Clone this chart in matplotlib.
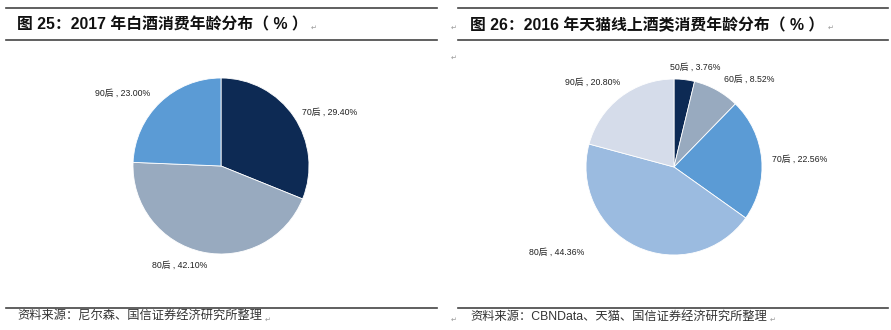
import numpy as np
import matplotlib.pyplot as plt

plt.rcParams['font.family'] = ['Liberation Sans', 'Noto Sans CJK SC', 'DejaVu Sans']

# data
left_labels = ['70后', '80后', '90后']
left_values = [29.40, 42.10, 23.00]
left_colors = ['#0d2a54', '#98aabf', '#5b9bd5']

right_labels = ['50后', '60后', '70后', '80后', '90后']
right_values = [3.76, 8.52, 22.56, 44.36, 20.80]
right_colors = ['#0d2a54', '#98aabf', '#5b9bd5', '#9bbbe0', '#d5dcea']

# label anchors in pie-radius units (layout only)
left_label_pos = [(0.92, 0.61, 'left'), (-0.16, -1.13, 'right'), (-0.81, 0.83, 'right')]
right_label_pos = [(-0.05, 1.13, 'left'), (0.57, 1.0, 'left'), (1.11, 0.09, 'left'),
                   (-1.02, -0.97, 'right'), (-0.61, 0.96, 'right')]

W, H = 891, 330
fig = plt.figure(figsize=(W / 100, H / 100), dpi=100)


def px_axes(x0, y0, w, h):
    return fig.add_axes([x0 / W, 1 - (y0 + h) / H, w / W, h / H])


def hline(x0, x1, y):
    fig.add_artist(plt.Line2D([x0 / W, x1 / W], [1 - y / H, 1 - y / H],
                              color='#444444', lw=1.2))


def mark(mx, my):
    fig.text(mx / W, 1 - my / H, '↵', fontsize=5, color='#999999',
             family='DejaVu Sans', va='center', ha='left')


def draw_pie(cx, cy, r, labels, values, colors, label_pos):
    ax = px_axes(cx - r, cy - r, 2 * r, 2 * r)
    ax.pie(values, colors=colors, startangle=90, counterclock=False,
           wedgeprops=dict(edgecolor='white', linewidth=0.6))
    ax.set_xlim(-1, 1)
    ax.set_ylim(-1, 1)
    ax.set_aspect('equal')
    ax.axis('off')
    for lab, val, (x, y, ha) in zip(labels, values, label_pos):
        ax.text(x, y, f'{lab} , {val:.2f}%', ha=ha, va='center',
                fontsize=6.3, color='#222222', clip_on=False)


draw_pie(221, 166, 88, left_labels, left_values, left_colors, left_label_pos)
draw_pie(674, 167, 88, right_labels, right_values, right_colors, right_label_pos)

# frame lines
for x0, x1 in [(6, 437), (458, 888)]:
    hline(x0, x1, 8)
    hline(x0, x1, 40)
    hline(x0, x1, 307.5)

# titles and sources, each followed by a paragraph mark
texts = [
    (17, 25, '图 25：2017 年白酒消费年龄分布（ % ）', 11.4, 'bold', '#111111'),
    (470, 25, '图 26：2016 年天猫线上酒类消费年龄分布（ % ）', 11.4, 'bold', '#111111'),
    (17, 317, '资料来源：尼尔森、国信证券经济研究所整理', 8.8, 'normal', '#333333'),
    (470, 317, '资料来源：CBNData、天猫、国信证券经济研究所整理', 8.8, 'normal', '#333333'),
]
renderer = fig.canvas.get_renderer()
for tx, ty, s, fs, fw, c in texts:
    t = fig.text(tx / W, 1 - ty / H, s, fontsize=fs, fontweight=fw,
                 va='center', ha='left', color=c)
    bb = t.get_window_extent(renderer)
    mark(bb.x1 + 3, ty + 3)

for mx, my in [(451, 28), (451, 58), (451, 320)]:
    mark(mx, my)

plt.savefig('out.png', dpi=100)
